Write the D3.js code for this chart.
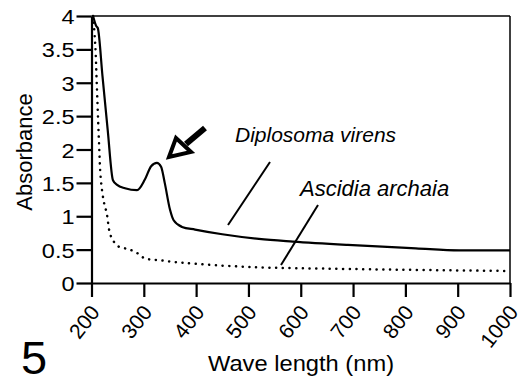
<!DOCTYPE html>
<html><head><meta charset="utf-8">
<script src="https://cdn.jsdelivr.net/npm/d3@7"></script>
<style>body{margin:0;background:#fff}svg text{font-family:"Liberation Sans",Arial,Helvetica,sans-serif;fill:#000}</style>
</head><body><svg id="c" width="518" height="381"></svg>
<script>
// Diplosoma virens (solid)
const dvWave = [203,209,212,221,231,241,249,264,287,302,314,325,333,340,350,357,373,398,450,520,585,690,820,903,1000];
const dvAbs  = [4.0,3.85,3.82,3.1,2.29,1.54,1.47,1.42,1.39,1.55,1.75,1.80,1.74,1.5,1.1,0.94,0.84,0.80,0.73,0.66,0.62,0.57,0.52,0.49,0.49];
// Ascidia archaia (dotted)
const aaWave = [203,207,210,214,218,224,229,235,241,251,264,283,302,331,378,502,693,1000];
const aaAbs  = [4.0,3.6,3.0,2.17,1.54,1.2,1.05,0.75,0.64,0.55,0.52,0.47,0.37,0.34,0.30,0.24,0.21,0.18];
const xTicks = [200,300,400,500,600,700,800,900,1000];
const yTicks = [0,0.5,1,1.5,2,2.5,3,3.5,4];
const yTickLabels = ["0","0.5","1","1.5","2","2.5","3","3.5","4"];

const svg = d3.select("#c");
const x = d3.scaleLinear().domain([200,1000]).range([91.5,510]);
const y = d3.scaleLinear().domain([0,4]).range([283,16]);

// frame top & right
svg.append("line").attr("x1",x(200)).attr("x2",x(1000)).attr("y1",y(4)).attr("y2",y(4)).attr("stroke","#000").attr("stroke-width",1.5);
svg.append("line").attr("x1",x(1000)).attr("x2",x(1000)).attr("y1",y(4)).attr("y2",y(0)).attr("stroke","#000").attr("stroke-width",1.5);

const xAxis = svg.append("g").attr("transform",`translate(0,${y(0)})`)
  .call(d3.axisBottom(x).tickValues(xTicks).tickSize(14).tickSizeOuter(0).tickFormat(d3.format("d")));
xAxis.selectAll("path,line").attr("stroke","#000").attr("stroke-width",2.2);
xAxis.selectAll("text").attr("font-size",21).attr("text-anchor","end")
  .attr("x",0).attr("y",0).attr("dy","0.35em")
  .attr("transform","translate(3,25) rotate(-52)");

const yAxis = svg.append("g").attr("transform",`translate(${x(200)},0)`)
  .call(d3.axisLeft(y).tickValues(yTicks).tickSize(15).tickSizeOuter(0).tickFormat((d,i)=>yTickLabels[i]));
yAxis.selectAll("path,line").attr("stroke","#000").attr("stroke-width",2.2);
yAxis.selectAll("text").attr("font-size",21).attr("x",0).attr("dy","0.36em")
  .attr("transform","translate(-17,0) scale(1.12,1)");

const line = d3.line().x(d=>x(d[0])).y(d=>y(d[1])).curve(d3.curveMonotoneX);
svg.append("path").datum(dvWave.map((w,i)=>[w,dvAbs[i]])).attr("d",line)
  .attr("fill","none").attr("stroke","#000").attr("stroke-width",2.2);
svg.append("path").datum(aaWave.map((w,i)=>[w,aaAbs[i]])).attr("d",d3.line().x(d=>x(d[0])).y(d=>y(d[1])).curve(d3.curveCatmullRom))
  .attr("fill","none").attr("stroke","#000").attr("stroke-width",2.5)
  .attr("stroke-linecap","round").attr("stroke-dasharray","0.1,6.6");

// labels
svg.append("text").attr("x",235).attr("y",142).attr("font-size",21).attr("font-style","italic").text("Diplosoma virens");
svg.append("text").attr("x",300).attr("y",196).attr("font-size",22).attr("font-style","italic").text("Ascidia archaia");
svg.append("line").attr("x1",270).attr("y1",162).attr("x2",228).attr("y2",225).attr("stroke","#000").attr("stroke-width",2);
svg.append("line").attr("x1",318).attr("y1",205).attr("x2",281).attr("y2",265).attr("stroke","#000").attr("stroke-width",2);

// arrow
svg.append("line").attr("x1",205).attr("y1",128).attr("x2",186).attr("y2",144).attr("stroke","#000").attr("stroke-width",6);
svg.append("path").attr("d","M169,157 L176,138 L191,152 Z").attr("fill","#fff").attr("stroke","#000").attr("stroke-width",4).attr("stroke-linejoin","miter");

// axis titles
svg.append("text").attr("x",0).attr("y",0).attr("font-size",22).attr("text-anchor","middle")
  .attr("transform","translate(301,371) scale(1.077,1)").text("Wave length (nm)");
svg.append("text").attr("transform","translate(32,152) rotate(-90)").attr("font-size",22).attr("text-anchor","middle").text("Absorbance");
svg.append("text").attr("x",21).attr("y",374).attr("font-size",47).text("5");
</script></body></html>
